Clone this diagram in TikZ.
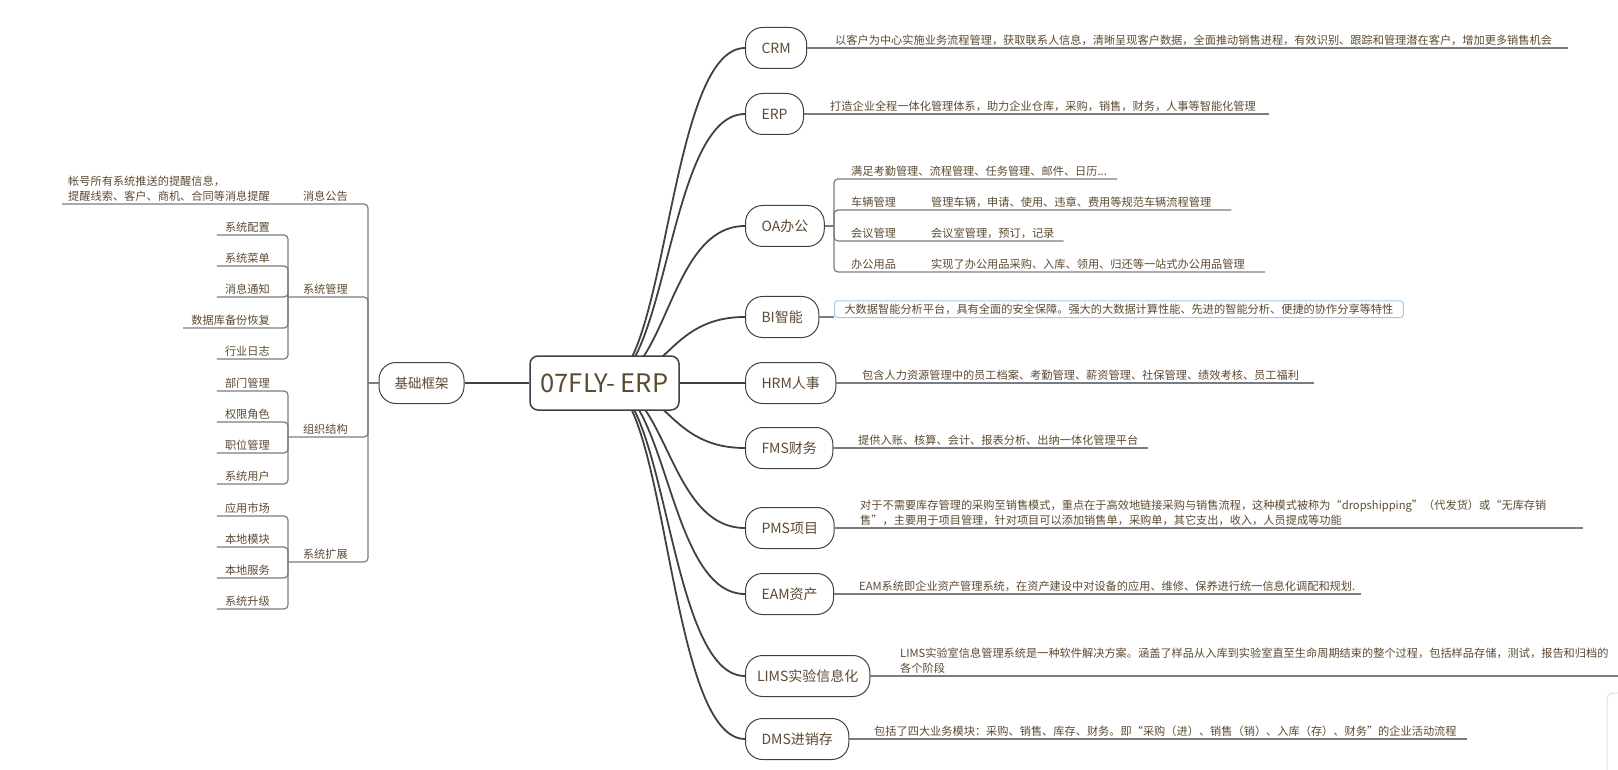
\documentclass[tikz,border=0pt]{standalone}
\usepackage{fontspec}
\setmainfont{Noto Sans CJK SC}
\usetikzlibrary{calc,backgrounds}
\definecolor{linedark}{RGB}{62,66,70}
\definecolor{linegray}{RGB}{120,125,130}
\definecolor{txtbrown}{RGB}{92,74,50}
\definecolor{selblue}{RGB}{165,198,238}

\tikzset{
  topic/.style={draw=linedark, line width=1pt, fill=white, rounded corners=17pt, minimum height=41pt, inner xsep=16pt, font=\fontsize{14}{16}\selectfont, text=txtbrown},
  root/.style={draw=linedark, line width=1.5pt, fill=white, rounded corners=8pt, minimum width=149pt, minimum height=54pt, font=\fontsize{25.5}{30}\selectfont, text=txtbrown},
  desc/.style={inner xsep=0pt, inner ysep=2pt, anchor=south west, align=left, font=\fontsize{11.2}{15.5}\selectfont, text=txtbrown},
  leaf/.style={desc, anchor=south east},
  curve/.style={draw=linedark, line width=1.8pt},
  branch/.style={draw=linegray, line width=1.2pt, rounded corners=4pt}
}

\begin{document}
\begin{tikzpicture}[x=1pt, y=-1pt]
\useasboundingbox (0,0) rectangle (1618,770);

% centre and left side
\node[root] (root) at (604.5,383) {07FLY- ERP};
\node[topic, minimum width=85pt, inner xsep=10pt, font=\fontsize{13.5}{16}\selectfont] (jichu) at (421.5,383) {基础框架};
\draw[curve] (root) -- (jichu);

\coordinate (lj) at (368,383);
\draw[branch] (jichu.west) -- (lj);

\node[leaf] (xxgg) at (348,204) {消息公告};
\node[desc] (xxggd) at (68,204) {帐号所有系统推送的提醒信息，\\提醒线索、客户、商机、合同等消息提醒};
\draw[branch] (lj) |- ($(xxggd.south west)+(-6,0)$);

\node[leaf] (xtgl) at (348,297) {系统管理};
\coordinate (xtglj) at (288,297);
\draw[branch] (lj) |- (xtglj);
\foreach \y/\t in {235/系统配置, 266/系统菜单, 297/消息通知, 328/数据库备份恢复, 359/行业日志} {
  \node[leaf] (xt\y) at (270,\y) {\t};
  \draw[branch] (xtglj) |- ($(xt\y.south west)+(-8,0)$);
}

\node[leaf] (zzjg) at (348,437) {组织结构};
\coordinate (zzjgj) at (288,437);
\draw[branch] (lj) |- (zzjgj);
\foreach \y/\t in {391/部门管理, 422/权限角色, 453/职位管理, 484/系统用户} {
  \node[leaf] (zz\y) at (270,\y) {\t};
  \draw[branch] (zzjgj) |- ($(zz\y.south west)+(-8,0)$);
}

\node[leaf] (xtkz) at (348,562) {系统扩展};
\coordinate (xtkzj) at (288,562);
\draw[branch] (lj) |- (xtkzj);
\foreach \y/\t in {516/应用市场, 547/本地模块, 578/本地服务, 609/系统升级} {
  \node[leaf] (kz\y) at (270,\y) {\t};
  \draw[branch] (xtkzj) |- ($(kz\y.south west)+(-8,0)$);
}

% right side topics
\node[topic, anchor=west] (crm) at (745,48) {CRM};
\node[topic, anchor=west] (erp) at (745,114) {ERP};
\node[topic, anchor=west] (oa) at (745,226) {OA办公};
\node[topic, anchor=west] (bi) at (745,317) {BI智能};
\node[topic, anchor=west] (hrm) at (745,383) {HRM人事};
\node[topic, anchor=west] (fms) at (745,448) {FMS财务};
\node[topic, anchor=west] (pms) at (745,528) {PMS项目};
\node[topic, anchor=west] (eam) at (745,594) {EAM资产};
\node[topic, anchor=west, inner xsep=11.5pt] (lims) at (745,676) {LIMS实验信息化};
\node[topic, anchor=west, minimum width=101pt] (dms) at (745,739) {DMS进销存};

\begin{scope}[on background layer]
  \foreach \n in {crm,erp,oa,bi,hrm,fms,pms,eam,lims,dms}
    \draw[curve] (root.center) .. controls ($(root.center)!.45!(root.center -| \n.west)$) and ($(\n.west)!.55!(\n.west -| root.center)$) .. (\n.west);
\end{scope}

% descriptions
\node[desc] (crmd) at (835,48) {以客户为中心实施业务流程管理，获取联系人信息，清晰呈现客户数据，全面推动销售进程，有效识别、跟踪和管理潜在客户，增加更多销售机会};
\draw[branch] (crm.east) -- ($(crmd.south east)+(16,0)$);

\node[desc] (erpd) at (830,114) {打造企业全程一体化管理体系，助力企业仓库，采购，销售，财务，人事等智能化管理};
\draw[branch] (erp.east) -- ($(erpd.south east)+(13,0)$);

\coordinate (oaj) at (834,226);
\draw[branch] (oa.east) -- (oaj);
\node[desc] (oa1) at (851,179) {满足考勤管理、流程管理、任务管理、邮件、日历...};
\node[desc] (oa2) at (851,210) {车辆管理};
\node[desc] (oa2d) at (931,210) {管理车辆，申请、使用、违章、费用等规范车辆流程管理};
\node[desc] (oa3) at (851,241) {会议管理};
\node[desc] (oa3d) at (931,241) {会议室管理，预订，记录};
\node[desc] (oa4) at (851,272) {办公用品};
\node[desc] (oa4d) at (931,272) {实现了办公用品采购、入库、领用、归还等一站式办公用品管理};
\draw[branch] (oaj) |- ($(oa1.south east)+(10,0)$);
\draw[branch] (oaj) |- ($(oa2d.south east)+(20,0)$);
\draw[branch] (oaj) |- ($(oa3d.south east)+(9,0)$);
\draw[branch] (oaj) |- ($(oa4d.south east)+(20,0)$);

\node[desc, draw=selblue, line width=1pt, fill=white, rounded corners=3pt, inner xsep=10pt, inner ysep=3pt] (bid) at (834,318) {大数据智能分析平台，具有全面的安全保障。强大的大数据计算性能、先进的智能分析、便捷的协作分享等特性};
\draw[branch] (bi.east) -- ($(bid.south west)+(0,-1)$);

\node[desc] (hrmd) at (862,383) {包含人力资源管理中的员工档案、考勤管理、薪资管理、社保管理、绩效考核、员工福利};
\draw[branch] (hrm.east) -- ($(hrmd.south east)+(15,0)$);

\node[desc] (fmsd) at (858,448) {提供入账、核算、会计、报表分析、出纳一体化管理平台};
\draw[branch] (fms.east) -- ($(fmsd.south east)+(10,0)$);

\node[desc] (pmsd) at (860,528) {对于不需要库存管理的采购至销售模式，重点在于高效地链接采购与销售流程，这种模式被称为“dropshipping”（代发货）或“无库存销\\售”，主要用于项目管理，针对项目可以添加销售单，采购单，其它支出，收入，人员提成等功能};
\draw[branch] (pms.east) -- ($(pmsd.south east)+(36,0)$);

\node[desc] (eamd) at (859,594) {EAM系统即企业资产管理系统，在资产建设中对设备的应用、维修、保养进行统一信息化调配和规划.};
\draw[branch] (eam.east) -- ($(eamd.south east)+(6,0)$);

\node[desc] (limsd) at (900,676) {LIMS实验室信息管理系统是一种软件解决方案。涵盖了样品从入库到实验室直至生命周期结束的整个过程，包括样品存储，测试，报告和归档的\\各个阶段};
\draw[branch] (lims.east) -- ($(limsd.south east)+(20,0)$);

\node[desc] (dmsd) at (874,739) {包括了四大业务模块：采购、销售、库存、财务。即“采购（进）、销售（销）、入库（存）、财务”的企业活动流程};
\draw[branch] (dms.east) -- ($(dmsd.south east)+(10,0)$);

% window edge at the corner
\draw[black!12, line width=1pt, rounded corners=6pt] (1607,693) rectangle (1660,800);
\end{tikzpicture}
\end{document}
